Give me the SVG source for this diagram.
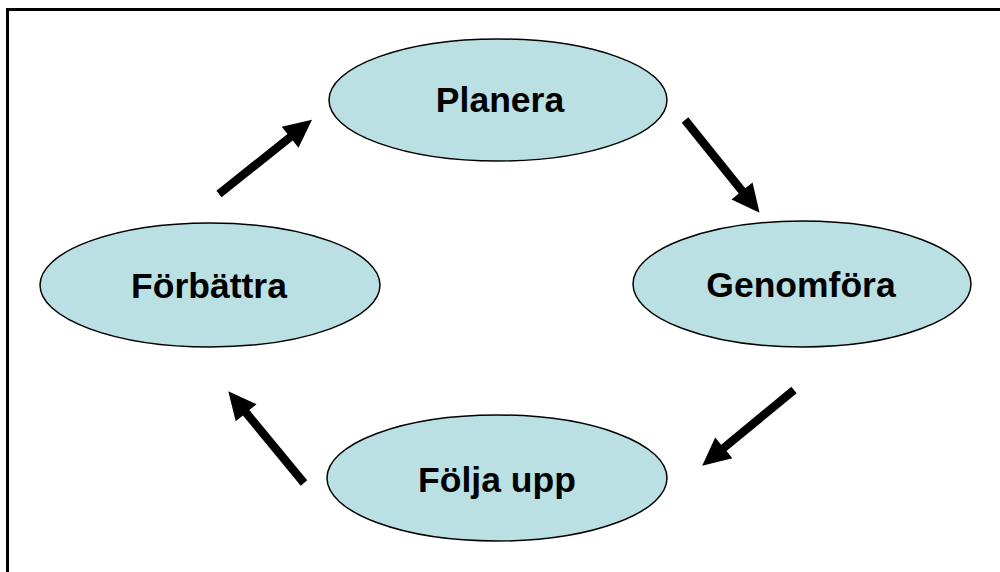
<svg xmlns="http://www.w3.org/2000/svg" width="1000" height="572" viewBox="0 0 1000 572">
<style>
.node{fill:#BBE0E3;stroke:#000;stroke-width:1.5}
.lbl{font-family:"Liberation Sans",Arial,sans-serif;font-weight:bold;font-size:35.5px;fill:#000;text-anchor:middle}
</style>
<defs>
<polygon id="arr" points="0,-4.2 91,-4.2 91,-13.5 119,0 91,13.5 91,4.2 0,4.2" fill="#000"/>
</defs>
<rect x="0" y="0" width="1000" height="572" fill="#fff"/>
<rect x="7.5" y="9.5" width="1010" height="600" fill="none" stroke="#000" stroke-width="3"/>
<g id="planera"><ellipse class="node" cx="498" cy="100" rx="169" ry="61"/><text class="lbl" x="500" y="112">Planera</text></g>
<g id="genomfora"><ellipse class="node" cx="802" cy="284" rx="169" ry="63"/><text class="lbl" x="801" y="297">Genomföra</text></g>
<g id="folja"><ellipse class="node" cx="497" cy="478" rx="170" ry="63"/><text class="lbl" x="497" y="492">Följa upp</text></g>
<g id="forbattra"><ellipse class="node" cx="210" cy="285" rx="170" ry="62"/><text class="lbl" x="209" y="298">Förbättra</text></g>
<g id="connectors">
<use href="#arr" transform="translate(219,194) rotate(-38.6)"/>
<use href="#arr" transform="translate(685,120) rotate(51.2)"/>
<use href="#arr" transform="translate(794,390) rotate(140.5)"/>
<use href="#arr" transform="translate(304,483) rotate(230.5)"/>
</g>
</svg>
